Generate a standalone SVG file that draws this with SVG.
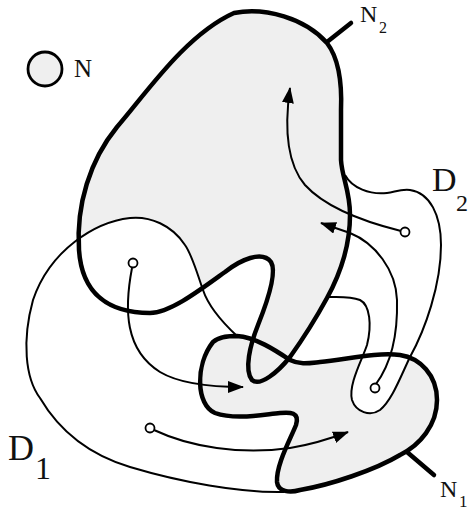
<svg xmlns="http://www.w3.org/2000/svg" width="468" height="510" viewBox="0 0 468 510">
<style>
.region{fill:#efefef;stroke:none}
.thick{fill:none;stroke:#000;stroke-width:4.5;stroke-linejoin:round;stroke-linecap:round}
.thin{fill:none;stroke:#000;stroke-width:2}
.wfill{fill:#fff;stroke:none}
.dot{fill:#fff;stroke:#000;stroke-width:1.8}
.lbl{font-family:"Liberation Serif","Times New Roman",serif;fill:#111}
</style>
<defs>
<marker id="ah" markerUnits="userSpaceOnUse" markerWidth="16" markerHeight="12" refX="15" refY="6" orient="auto">
<path d="M0,0 L16,6 L0,12 z" fill="#000"/>
</marker>
</defs>
<rect width="468" height="510" fill="#fff"/>
<g id="legend">
<circle cx="45" cy="69" r="17" fill="#efefef" stroke="#000" stroke-width="2.8"/>
<text class="lbl" x="74" y="77" font-size="25">N</text>
</g>
<g id="N2">
<path class="region" d="M 234,13 C 265,7 305,18 327,43 C 340,60 342,85 341,110 L 341,160 C 342,178 350,190 350,215 C 350,250 338,278 327,298 C 315,320 300,343 290,357 C 278,372 260,387 252,380 C 244,370 250,345 258,325 C 268,300 277,272 271,262 C 262,250 240,260 225,272 C 200,290 170,313 150,313 C 110,313 82,295 79,250 C 76,205 90,160 117,127 C 145,95 185,35 234,13 Z"/>
</g>
<g id="N1">
<path class="region" d="M 237,336 C 255,337 275,350 290,360 C 300,365 310,363 320,362 C 345,360 375,352 400,355 C 420,358 437,375 437,400 C 437,425 420,445 400,455 C 375,470 330,485 300,490 C 290,493 278,492 277,482 C 276,465 290,440 296,425 C 300,412 290,412 280,413 C 260,415 235,420 215,413 C 196,405 195,365 213,342 C 220,336 230,336 237,336 Z"/>
</g>
<g id="D1">
<path class="wfill" d="M 237,336 C 222,322 208,305 203,290 C 196,270 192,255 185,245 C 172,225 150,216 130,218 C 95,222 50,250 33,300 C 22,340 25,378 40,398 C 60,432 90,455 130,467 C 180,482 240,493 284,492 L 277,482 C 276,465 290,440 296,425 C 300,412 290,412 280,413 C 260,415 235,420 215,413 C 196,405 195,365 213,342 C 220,336 230,336 237,336 Z"/>
</g>
<g id="D2">
<path class="wfill" d="M 345,175 C 352,188 370,195 387,193 C 395,192 400,189 410,190 C 430,193 441,215 441,245 C 441,285 425,330 410,357 C 400,378 392,400 380,410 C 370,417 356,412 352,400 C 348,385 362,360 367,345 C 372,325 370,305 360,300 C 350,296 340,297 327,297 C 338,278 350,250 350,215 C 350,195 347,185 345,175 Z"/>
</g>
<g id="outlines">
<path class="thick" d="M 234,13 C 265,7 305,18 327,43 C 340,60 342,85 341,110 L 341,160 C 342,178 350,190 350,215 C 350,250 338,278 327,298 C 315,320 300,343 290,357 C 278,372 260,387 252,380 C 244,370 250,345 258,325 C 268,300 277,272 271,262 C 262,250 240,260 225,272 C 200,290 170,313 150,313 C 110,313 82,295 79,250 C 76,205 90,160 117,127 C 145,95 185,35 234,13 Z"/>
<path class="thick" d="M 237,336 C 255,337 275,350 290,360 C 300,365 310,363 320,362 C 345,360 375,352 400,355 C 420,358 437,375 437,400 C 437,425 420,445 400,455 C 375,470 330,485 300,490 C 290,493 278,492 277,482 C 276,465 290,440 296,425 C 300,412 290,412 280,413 C 260,415 235,420 215,413 C 196,405 195,365 213,342 C 220,336 230,336 237,336 Z"/>
<path class="thick" d="M 327,42 L 351,23"/>
<path class="thick" d="M 407,452 L 434,475"/>
<path class="thin" d="M 237,336 C 222,322 208,305 203,290 C 196,270 192,255 185,245 C 172,225 150,216 130,218 C 95,222 50,250 33,300 C 22,340 25,378 40,398 C 60,432 90,455 130,467 C 180,482 240,493 284,492"/>
<path class="thin" d="M 345,175 C 352,188 370,195 387,193 C 395,192 400,189 410,190 C 430,193 441,215 441,245 C 441,285 425,330 410,357 C 400,378 392,400 380,410 C 370,417 356,412 352,400 C 348,385 362,360 367,345 C 372,325 370,305 360,300 C 350,296 340,297 327,297"/>
</g>
<g id="connectors">
<path class="thin" marker-end="url(#ah)" d="M 132,268 C 124,310 125,350 160,372 C 180,384 210,387 243,387"/>
<path class="thin" marker-end="url(#ah)" d="M 154,430 C 190,447 240,455 290,448 C 315,444 332,438 348,432"/>
<path class="thin" marker-end="url(#ah)" d="M 401,231 C 365,222 325,207 305,185 C 288,165 284,130 290,88"/>
<path class="thin" marker-end="url(#ah)" d="M 376,384 C 390,365 398,340 397,300 C 396,270 375,243 350,233 L 321,223"/>
</g>
<g id="dots">
<circle class="dot" cx="133" cy="263" r="4.5"/>
<circle class="dot" cx="150" cy="428" r="4.5"/>
<circle class="dot" cx="405" cy="232" r="4.5"/>
<circle class="dot" cx="375" cy="388" r="4.5"/>
</g>
<g id="labels">
<text class="lbl" x="360" y="22" font-size="24">N</text>
<text class="lbl" x="379" y="33" font-size="16">2</text>
<text class="lbl" x="440" y="497" font-size="24">N</text>
<text class="lbl" x="459" y="507" font-size="17">1</text>
<text class="lbl" x="432" y="191" font-size="34">D</text>
<text class="lbl" x="456" y="211" font-size="24">2</text>
<text class="lbl" x="8" y="460" font-size="36">D</text>
<text class="lbl" x="35" y="479" font-size="32">1</text>
</g>
</svg>
